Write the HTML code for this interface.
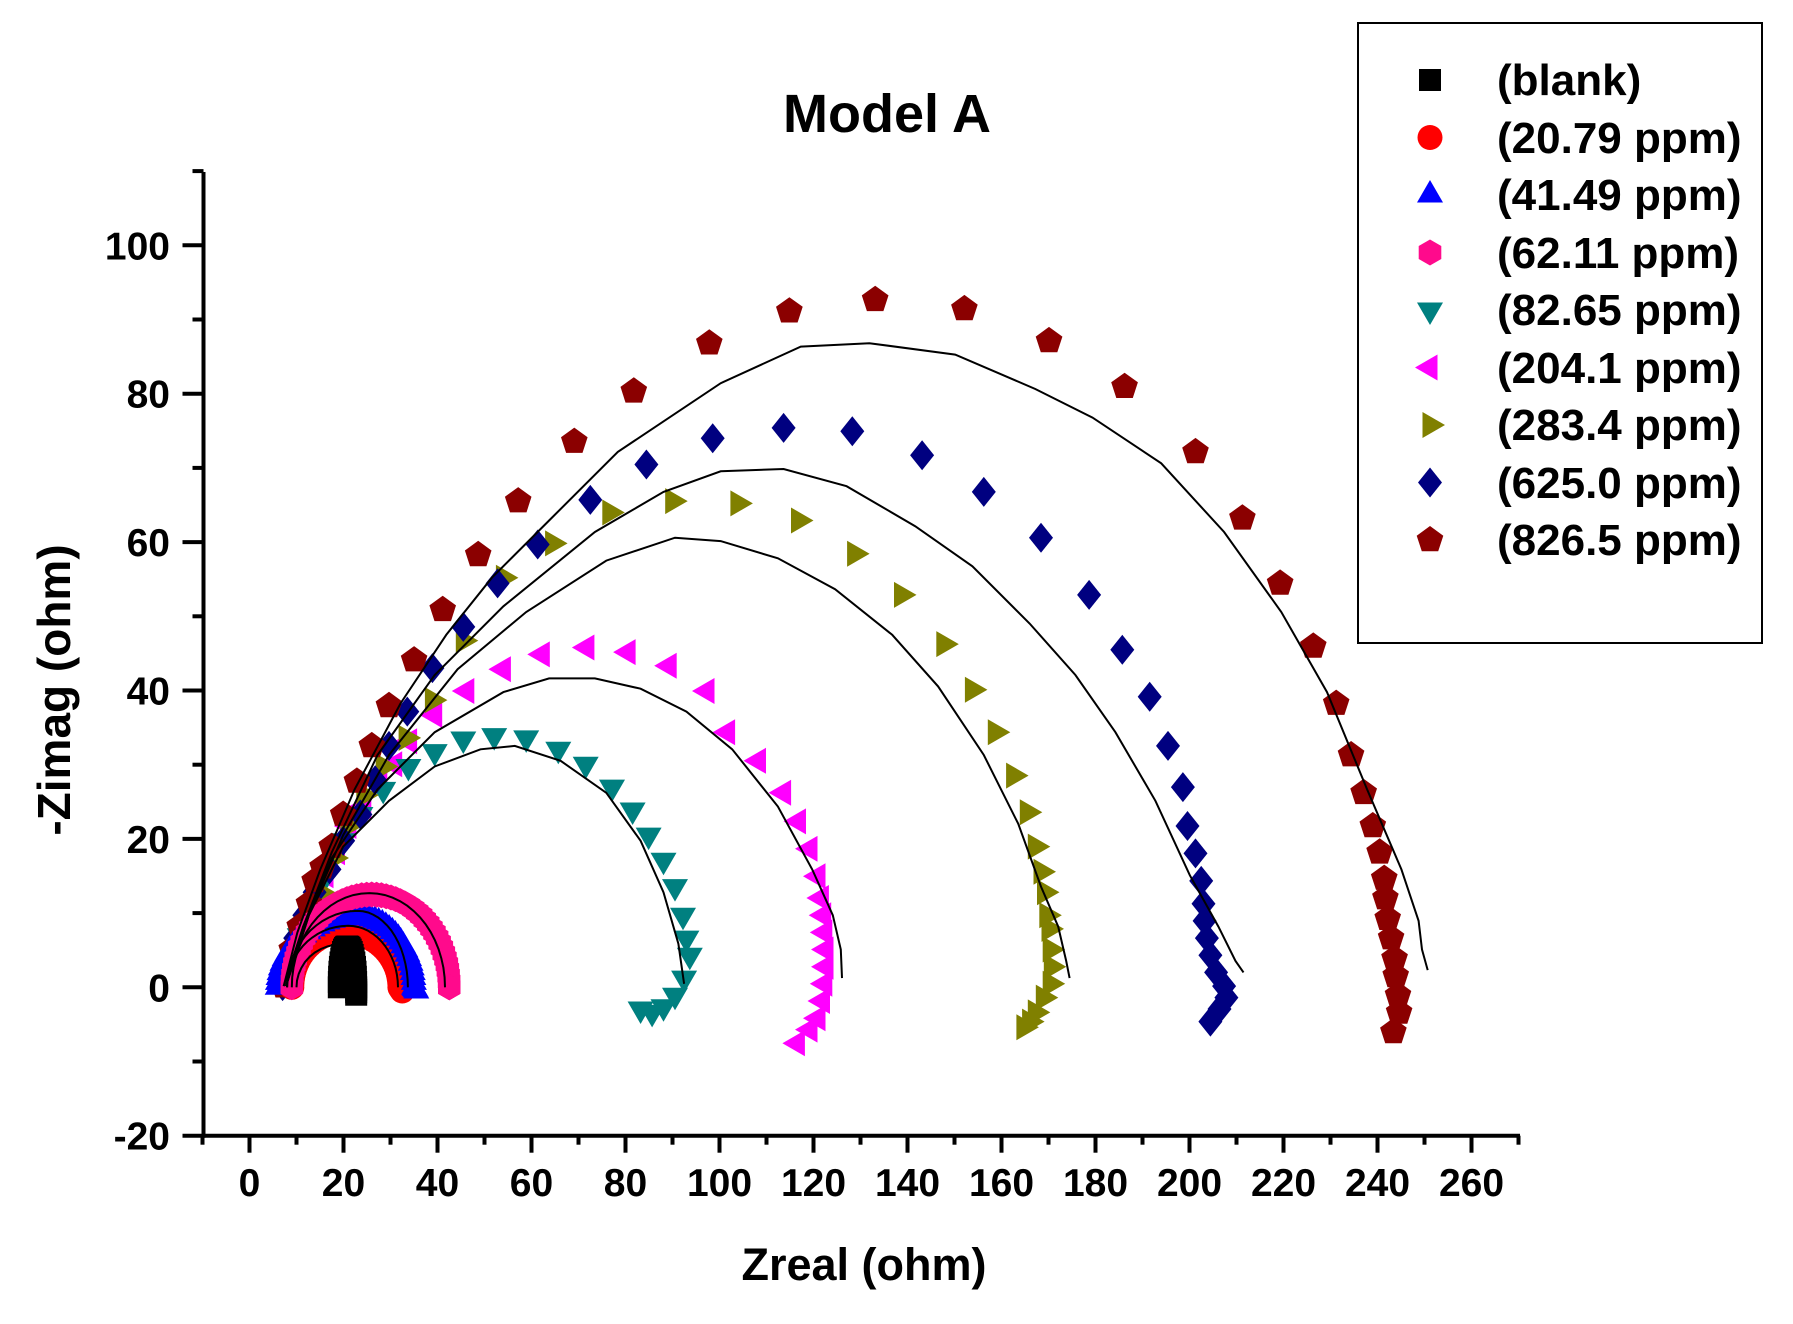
<!DOCTYPE html>
<html><head><meta charset="utf-8">
<style>
html,body{margin:0;padding:0;background:#fff;}
svg{display:block;}
text{font-family:"Liberation Sans",Arial,sans-serif;font-weight:bold;fill:#000;}
</style></head>
<body>
<svg id="s" width="1793" height="1324" viewBox="0 0 1793 1324" xmlns="http://www.w3.org/2000/svg">
<rect width="1793" height="1324" fill="#fff"/>
<g id="data"></g>
<g id="axes"></g>
<text x="887" y="132" font-size="54" text-anchor="middle">Model A</text>
<text x="864" y="1280" font-size="45" text-anchor="middle">Zreal (ohm)</text>
<text transform="translate(70,690) rotate(-90)" font-size="46" text-anchor="middle">-Zimag (ohm)</text>
<rect x="1358" y="23" width="404" height="620" fill="#fff" stroke="#000" stroke-width="2"/>
<g id="leg"></g>
<g font-size="44">
<text x="1497" y="95">(blank)</text>
<text x="1497" y="153">(20.79 ppm)</text>
<text x="1497" y="210">(41.49 ppm)</text>
<text x="1497" y="268">(62.11 ppm)</text>
<text x="1497" y="325">(82.65 ppm)</text>
<text x="1497" y="383">(204.1 ppm)</text>
<text x="1497" y="440">(283.4 ppm)</text>
<text x="1497" y="498">(625.0 ppm)</text>
<text x="1497" y="555">(826.5 ppm)</text>
</g>
</svg>
<script>
(function(){
var S=1.144;
var X0=249.5,KX=4.70,Y0=987.3,KY=7.42;
function px(x){return X0+x*KX;} function py(y){return Y0-y*KY;}
var html="";
function poly(n,r,rot){var p=[];for(var i=0;i<n;i++){var a=rot+i*2*Math.PI/n;p.push([r*Math.cos(a),r*Math.sin(a)]);}return p;}
function marker(shape,x,y,c){
  var pts;
  switch(shape){
    case "sq": return '<rect x="'+(x-11)+'" y="'+(y-11)+'" width="22" height="22" fill="'+c+'"/>';
    case "ci": return '<circle cx="'+x+'" cy="'+y+'" r="12.5" fill="'+c+'"/>';
    case "tu": pts=poly(3,15,-Math.PI/2);break;
    case "td": pts=poly(3,15,Math.PI/2);break;
    case "tl": pts=poly(3,15,Math.PI);break;
    case "tr": pts=poly(3,15,0);break;
    case "hx": pts=poly(6,13,Math.PI/2);break;
    case "di": pts=[[0,-15],[12,0],[0,15],[-12,0]];break;
    case "pe": pts=poly(5,14,-Math.PI/2);break;
  }
  return '<polygon points="'+pts.map(function(p){return (x+p[0]).toFixed(1)+","+(y+p[1]).toFixed(1);}).join(" ")+'" fill="'+c+'"/>';
}
function dispSeries(list,shape,c){list.forEach(function(p){html+=marker(shape,p[0]*S,p[1]*S,c);});}
function dispLine(list){html+='<polyline fill="none" stroke="#000" stroke-width="2" points="'+list.map(function(p){return (p[0]*S).toFixed(1)+","+(p[1]*S).toFixed(1);}).join(" ")+'"/>';}
function arcPts(x0,xp,x1,h,n,tail){
  var r=[];for(var i=0;i<=n;i++){var t=Math.PI*(1-i/n);var w=t>Math.PI/2?xp-x0:x1-xp;r.push([xp+w*Math.cos(t),h*Math.sin(t)]);}
  if(tail){for(var k=1;k<=3;k++){r.push([x1+(tail[0]-x1)*k/3,tail[1]*k/3]);}}
  return r;
}
function dataSeries(list,shape,c){list.forEach(function(p){html+=marker(shape,px(p[0]),py(p[1]),c);});}
function dataLine(list){html+='<polyline fill="none" stroke="#000" stroke-width="2" points="'+list.map(function(p){return px(p[0]).toFixed(1)+","+py(p[1]).toFixed(1);}).join(" ")+'"/>';}

var dr=[[248,862],[250,850],[255,830],[262,810],[270,790],[275,770],[282,758],[290,740],[300,712],[312,683],[325,652],[340,617],[362,577],[387,533],[418,485],[453,438],[502,386],[554,342],[620,300],[690,272],[765,262],[843,270],[917,298],[983,338],[1045,395],[1086,453],[1119,510],[1148,565],[1168,615],[1181,660],[1192,693],[1200,722],[1206,745],[1210,768],[1211,785],[1213,803],[1216,820],[1219,838],[1220,853],[1222,870],[1223,885],[1218,902]];
var nv=[[247,862],[252,840],[258,820],[266,800],[275,780],[288,760],[300,735],[315,712],[328,682],[340,652],[356,622],[378,584],[405,548],[435,510],[470,476],[516,437],[565,406],[623,383],[685,374],[745,377],[806,398],[860,430],[910,470],[952,520],[981,568],[1005,609],[1021,652],[1034,688],[1038,722],[1045,746],[1050,770],[1052,790],[1053,805],[1055,820],[1058,835],[1063,850],[1070,862],[1072,872],[1066,882],[1058,893]];
var ol=[[250,860],[258,835],[268,805],[280,780],[292,750],[304,722],[318,695],[335,670],[355,645],[378,612],[405,560],[440,505],[483,475],[533,448],[588,438],[645,440],[698,455],[747,484],[788,520],[825,563],[850,603],[870,640],[886,678],[898,710],[905,740],[910,762],[913,780],[915,800],[917,812],[918,830],[919,845],[918,860],[912,872],[905,885],[900,893],[895,898]];
var mg=[[252,855],[258,830],[265,810],[275,790],[285,765],[295,745],[305,722],[318,705],[332,685],[345,668],[358,648],[380,625],[408,604],[440,585],[474,572],[513,566],[549,570],[585,582],[618,604],[636,640],[663,665],[685,693],[698,718],[708,742],[715,766],[718,785],[720,800],[721,815],[722,830],[722,845],[721,860],[719,875],[715,890],[708,900],[697,912]];
var tl=[[250,860],[255,840],[262,818],[272,795],[285,765],[300,735],[315,712],[335,690],[357,670],[380,657],[405,646],[432,643],[460,645],[488,655],[512,668],[535,688],[553,708],[567,730],[580,752],[590,775],[597,800],[600,820],[603,835],[598,855],[590,870],[580,880],[570,885],[560,882]];
dispSeries(mg,"tl","#ff00ff");
dispSeries(tl,"td","#008080");
dispSeries(ol,"tr","#808000");
dispSeries(nv,"di","#000080");
dispSeries(dr,"pe","#8b0000");
dataSeries(arcPts(9,20,32,7.5,40,[32.5,-0.5]),"ci","#ff0000");
dataSeries(arcPts(6,23,35,9.5,45,[35.5,-0.5]),"tu","#0000ff");
dataSeries(arcPts(9,26,42.5,12.5,50,[42.5,0]),"hx","#ff0a8c");
dataSeries(arcPts(19,20.8,22.7,5.5,24,[22.7,-1]),"sq","#000000");
dispLine([[248,862],[260,815],[280,760],[310,690],[350,615],[390,555],[430,505],[480,455],[540,395],[630,335],[700,303],[760,300],[835,310],[905,340],[955,365],[1015,405],[1070,465],[1120,535],[1160,605],[1195,690],[1225,760],[1240,805],[1243,830],[1248,848]]);
dispLine([[248,862],[265,810],[290,745],[330,660],[380,590],[440,530],[520,465],[580,430],[630,412],[685,410],[740,425],[800,460],[850,495],[900,545],[940,590],[975,640],[1010,700],[1040,765],[1065,810],[1080,840],[1087,850]]);
dispLine([[250,862],[270,800],[300,730],[340,660],[400,585],[460,535],[530,490],[590,470],[630,473],[680,488],[730,515],[780,555],[820,600],[860,660],[890,720],[910,775],[925,810],[932,840],[935,855]]);
dispLine([[250,862],[265,810],[290,750],[330,690],[380,640],[440,605],[480,593],[520,593],[560,602],[600,622],[640,655],[680,705],[710,760],[728,800],[735,830],[736,855]]);
dispLine([[250,862],[270,800],[300,740],[340,700],[380,670],[420,655],[450,652],[490,665],[530,693],[560,735],[580,780],[593,825],[598,860]]);
dataLine(arcPts(8,21,31.6,8.3,30));
dataLine(arcPts(8,23,33.7,10.3,30));
dataLine(arcPts(9,25.5,41.6,12.7,30));
dataLine(arcPts(10,19.5,23,5.8,20));
document.getElementById("data").innerHTML=html;

var a="";
var L=203.5,B=1135.7,R=1520,T=172;
a+='<line x1="'+L+'" y1="'+T+'" x2="'+L+'" y2="'+(B+2)+'" stroke="#000" stroke-width="4"/>';
a+='<line x1="'+(L-2)+'" y1="'+B+'" x2="'+R+'" y2="'+B+'" stroke="#000" stroke-width="4"/>';
for(var v=-20;v<=110;v+=10){var y=py(v);var maj=v%20===0;
  a+='<line x1="'+(L-(maj?21:11))+'" y1="'+y+'" x2="'+L+'" y2="'+y+'" stroke="#000" stroke-width="4"/>';
  if(maj&&v<=100)a+='<text x="170" y="'+(y+14)+'" font-size="39" text-anchor="end">'+v+'</text>';}
for(var u=-10;u<=270;u+=10){var x=px(u);var maj2=u%20===0;
  a+='<line x1="'+x+'" y1="'+B+'" x2="'+x+'" y2="'+(B+(maj2?17:9))+'" stroke="#000" stroke-width="4"/>';
  if(maj2&&u>=0&&u<=260)a+='<text x="'+x+'" y="1196" font-size="39" text-anchor="middle">'+u+'</text>';}
document.getElementById("axes").innerHTML=a;

var lg="",shapes=[["sq","#000"],["ci","#ff0000"],["tu","#0000ff"],["hx","#ff0a8c"],["td","#008080"],["tl","#ff00ff"],["tr","#808000"],["di","#000080"],["pe","#8b0000"]];
shapes.forEach(function(s,i){lg+=marker(s[0],1430,80+i*57.5,s[1]);});
document.getElementById("leg").innerHTML=lg;
})();
</script>
</body></html>
